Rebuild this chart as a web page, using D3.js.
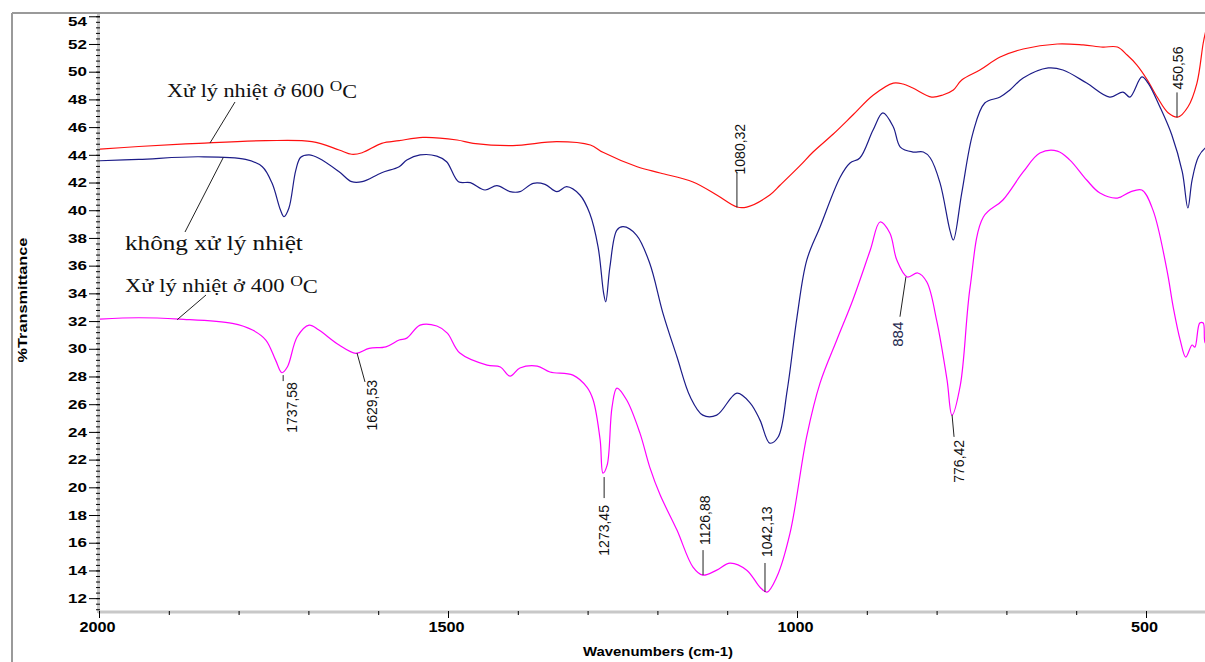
<!DOCTYPE html>
<html>
<head>
<meta charset="utf-8">
<script src="https://cdn.jsdelivr.net/npm/d3@7"></script>
<style>
  body { margin: 0; background: #fff; }
</style>
</head>
<body>
<script>
const width = 1205;
const height = 662;

// FTIR spectra: [wavenumber cm-1, %T]
const untreated = [[2000,43.57],[1943,43.67],[1857,43.86],[1790,43.67],[1766,43.14],[1752,41.94],[1740,40.01],[1735,39.53],[1728,40.14],[1718,42.9],[1711,43.82],[1699,43.99],[1685,43.75],[1656,42.78],[1638,42.06],[1623,42.06],[1595,42.71],[1570,43.14],[1559,43.62],[1540,43.99],[1516,43.91],[1502,43.5],[1485,42.06],[1468,41.99],[1447,41.46],[1430,41.77],[1411,41.34],[1397,41.34],[1378,41.94],[1361,41.87],[1344,41.34],[1330,41.7],[1311,41.1],[1297,39.78],[1285,37.36],[1277,34.0],[1274,33.39],[1268,35.92],[1258,38.57],[1249,38.81],[1230,38.21],[1211,36.17],[1192,32.56],[1172,29.42],[1153,26.53],[1135,25.21],[1115,25.21],[1086,26.8],[1067,26.08],[1053,24.85],[1039,23.19],[1027,23.63],[1014,27.02],[1000,32.29],[986,36.4],[967,38.79],[938,42.4],[924,43.41],[910,43.77],[891,45.79],[877,47.02],[862,46.01],[852,44.56],[834,44.2],[819,44.2],[809,43.77],[795,41.96],[781,38.57],[776,37.85],[764,41.24],[748,45.57],[731,47.74],[709,48.17],[695,48.68],[676,49.54],[640,50.27],[619,50.12],[585,49.18],[552,48.17],[533,48.53],[523,48.17],[506,49.62],[497,49.18],[480,47.45],[463,45.43],[448,42.76],[440,40.16],[434,42.18],[425,43.84],[415,44.49],[410,44.6]];
const heat600 = [[2000,44.4],[1943,44.6],[1857,44.83],[1761,45.02],[1695,44.95],[1656,44.35],[1638,44.04],[1623,44.15],[1595,44.83],[1570,45.02],[1536,45.26],[1487,45.07],[1464,44.83],[1407,44.66],[1344,44.95],[1296,44.71],[1278,44.18],[1229,43.14],[1196,42.69],[1149,42.04],[1115,41.1],[1086,40.23],[1072,40.23],[1039,41.1],[1024,41.82],[996,43.2],[977,44.2],[948,45.5],[920,46.87],[891,48.3],[862,49.18],[848,49.11],[834,48.82],[807,48.17],[791,48.32],[776,48.68],[764,49.4],[738,50.12],[709,51.06],[676,51.64],[627,52.0],[590,51.93],[562,51.78],[541,51.78],[527,51.2],[513,50.48],[498,49.4],[484,48.17],[468,47.02],[454,46.73],[440,47.45],[427,49.18],[418,52.07],[414,53.0]];
const heat400 = [[2000,32.14],[1943,32.24],[1885,32.14],[1809,31.83],[1780,31.35],[1761,30.63],[1747,29.18],[1738,28.27],[1730,28.7],[1716,30.87],[1699,31.71],[1685,31.35],[1656,30.27],[1632,29.67],[1613,30.03],[1589,30.14],[1570,30.63],[1559,30.77],[1540,31.71],[1516,31.64],[1501,31.13],[1483,29.69],[1444,28.82],[1425,28.68],[1411,28.03],[1397,28.61],[1372,28.75],[1354,28.32],[1321,28.1],[1301,27.23],[1292,26.3],[1282,23.41],[1278,21.03],[1272,21.6],[1265,25.79],[1258,27.16],[1244,26.3],[1225,23.91],[1211,21.46],[1196,19.44],[1172,16.91],[1149,14.24],[1135,13.66],[1115,14.02],[1096,14.53],[1072,14.02],[1053,12.79],[1043,12.43],[1029,13.52],[1010,16.69],[986,23.7],[967,27.52],[943,30.63],[920,33.52],[895,37.13],[881,39.15],[867,38.35],[857,36.4],[842,35.18],[827,35.47],[814,34.82],[800,32.07],[785,27.74],[778,25.21],[766,27.38],[752,34.45],[733,39.51],[705,40.74],[676,42.76],[652,44.13],[627,44.27],[609,43.62],[585,42.18],[566,41.24],[541,40.88],[523,41.31],[506,41.46],[490,40.01],[470,35.68],[461,33.01],[451,30.63],[443,29.4],[434,30.27],[430,30.12],[423,31.86],[418,31.86],[415,30.41],[410,30.4]];

const yTicks = d3.range(12, 55, 2);
const xTicks = [2000, 1500, 1000, 500];

// peak labels and the point on the curve each leader touches
const peakText = ["1737,58", "1629,53", "1273,45", "1126,88", "1042,13", "1080,32", "450,56", "884", "776,42"];
const peakWn = [1737.58, 1629.53, 1273.45, 1126.88, 1042.13, 1080.32, 450.56, 884, 776.42];
const peakT = [28.1, 29.7, 21.1, 13.7, 12.3, 40.2, 46.7, 35.2, 25.3];

// curve names and where their leaders touch the curve
const noteText = ["Xử lý nhiệt ở 600 ", "không xử lý nhiệt", "Xử lý nhiệt ở 400 "];
const noteWn = [1841, 1822, 1888];
const noteT = [44.85, 43.8, 32.1];

const svg = d3.select("body").append("svg")
  .attr("width", width)
  .attr("height", height)
  .style("display", "block");

const x = d3.scaleLinear().domain([2000, 400]).range([99, 99 + 1600 * 0.698]);
const y = d3.scaleLinear().domain([11, 54.2]).range([612, 13.5]);

// outer frame
svg.append("line").attr("x1", 12).attr("y1", 13).attr("x2", 12).attr("y2", height)
  .attr("stroke", "#9a9a9a").attr("stroke-width", 2);
svg.append("line").attr("x1", 12).attr("y1", 13).attr("x2", width).attr("y2", 13)
  .attr("stroke", "#9a9a9a").attr("stroke-width", 2);

// gray axis bands
svg.append("line").attr("x1", 98.5).attr("y1", 14).attr("x2", 98.5).attr("y2", 613)
  .attr("stroke", "#c8c8c8").attr("stroke-width", 3);
svg.append("line").attr("x1", 98).attr("y1", 612).attr("x2", width).attr("y2", 612)
  .attr("stroke", "#c8c8c8").attr("stroke-width", 3);

// y axis
const gyMinor = svg.append("g").attr("transform", "translate(100,0)")
  .call(d3.axisLeft(y).tickValues(d3.range(11.2, 54.2, 0.4)).tickSize(4).tickFormat(""));
const gy = svg.append("g").attr("transform", "translate(100,0)")
  .call(d3.axisLeft(y).tickValues(yTicks).tickSize(11));
[gy, gyMinor].forEach(g => {
  g.select(".domain").remove();
  g.selectAll("line").attr("stroke", "#000");
});
const sy = 1.42;
gy.selectAll("text")
  .attr("font-family", "Liberation Sans, Arial, sans-serif")
  .attr("font-size", 12)
  .attr("font-weight", "bold")
  .attr("fill", "#000")
  .attr("x", -13 / sy)
  .attr("dy", d => d === 54 ? "0.75em" : "0.35em")
  .attr("transform", `scale(${sy},1)`);

// x axis
const gxMinor = svg.append("g").attr("transform", "translate(0,611)")
  .call(d3.axisBottom(x).tickValues(d3.range(2000, 399, -100)).tickSize(4).tickFormat(""));
const gx = svg.append("g").attr("transform", "translate(0,611)")
  .call(d3.axisBottom(x).tickValues(xTicks).tickSize(7).tickFormat(d3.format("d")));
[gx, gxMinor].forEach(g => {
  g.select(".domain").remove();
  g.selectAll("line").attr("stroke", "#000");
});
const sx = 1.16;
gx.selectAll("text")
  .attr("font-family", "Liberation Sans, Arial, sans-serif")
  .attr("font-size", 14)
  .attr("font-weight", "bold")
  .attr("fill", "#000")
  .attr("y", 11)
  .attr("x", -2 / sx)
  .attr("transform", `scale(${sx},1)`);

// axis titles
const yt = svg.append("g");
const ytText = yt.append("text")
  .attr("text-anchor", "middle")
  .attr("font-family", "Liberation Sans, Arial, sans-serif")
  .attr("font-size", 12)
  .attr("font-weight", "bold")
  .text("%Transmittance");
yt.attr("transform", `translate(27,300) rotate(-90) scale(${125 / ytText.node().getComputedTextLength()},1)`);

const xt = svg.append("g");
const xtText = xt.append("text")
  .attr("text-anchor", "middle")
  .attr("font-family", "Liberation Sans, Arial, sans-serif")
  .attr("font-size", 12)
  .attr("font-weight", "bold")
  .text("Wavenumbers (cm-1)");
xt.attr("transform", `translate(658,656) scale(${150 / xtText.node().getComputedTextLength()},1)`);

// spectra
svg.append("clipPath").attr("id", "plot")
  .append("rect").attr("x", 100).attr("y", 14).attr("width", width - 100).attr("height", 597);

const line = d3.line()
  .x(d => x(d[0]))
  .y(d => y(d[1]))
  .curve(d3.curveCatmullRom.alpha(0.5));

const series = [
  { data: heat600, color: "#ff1010" },
  { data: untreated, color: "#1c1c88" },
  { data: heat400, color: "#ff00ff" }
];
svg.append("g").attr("clip-path", "url(#plot)")
  .selectAll("path")
  .data(series)
  .join("path")
  .attr("d", d => line(d.data))
  .attr("fill", "none")
  .attr("stroke", d => d.color)
  .attr("stroke-width", 1.2);

// peak annotations: leader [x1,y1,x2,y2], text offset [tx,ty], anchor
const peakLayout = [
  [1, 0, 1, 6, 10, 7, "end"],
  [-0.6, 0, 7.4, 29, 14.4, 27, "end"],
  [-2, 5, -2, 26, -2, 33, "end"],
  [-5.4, -24.5, -5.4, 0.5, -3.4, -29.5, "start"],
  [-2.6, -31, -2.6, -2, -0.6, -37, "start"],
  [-4, -35, -4, 0, -1, -33, "start"],
  [-3.5, -25, -3.5, 0, -3, -28, "start"],
  [28, 0, 22, 40, 20, 45, "end"],
  [-1, 1, 1, 23, 6, 26, "end"]
];
const peaks = svg.append("g");
peakText.forEach((t, i) => {
  const ax = x(peakWn[i]), ay = y(peakT[i]);
  const L = peakLayout[i];
  peaks.append("line")
    .attr("x1", ax + L[0]).attr("y1", ay + L[1])
    .attr("x2", ax + L[2]).attr("y2", ay + L[3])
    .attr("stroke", "#222").attr("stroke-width", 1);
  peaks.append("text")
    .attr("transform", `translate(${ax + L[4]},${ay + L[5]}) rotate(-90)`)
    .attr("text-anchor", L[6])
    .attr("dy", "0.36em")
    .attr("font-family", "Liberation Sans, Arial, sans-serif")
    .attr("font-size", t === "884" ? 15 : 14)
    .attr("fill", t === "884" ? "#1f2a4f" : "#111")
    .text(t);
});

// curve notes: text x, baseline y, width, font size, leader start
const noteLayout = [
  [167, 97, 190, 18, 235, 102],
  [125, 250, 178, 22, 185, 232],
  [125, 292, 193, 18, 206, 295]
];
noteText.forEach((t, i) => {
  const L = noteLayout[i];
  svg.append("line")
    .attr("x1", L[4]).attr("y1", L[5])
    .attr("x2", x(noteWn[i])).attr("y2", y(noteT[i]))
    .attr("stroke", "#222").attr("stroke-width", 1);
  const g = svg.append("g");
  const txt = g.append("text")
    .attr("font-family", "Liberation Serif, Times New Roman, serif")
    .attr("font-size", L[3])
    .attr("fill", "#111");
  txt.append("tspan").text(t);
  if (i !== 1) {
    txt.append("tspan").attr("font-size", 14).attr("dy", -6).text("O");
    txt.append("tspan").attr("dy", 7).text("C");
  }
  const w0 = txt.node().getBBox().width;
  g.attr("transform", `translate(${L[0]},${L[1]}) scale(${L[2] / w0},1)`);
});
</script>
</body>
</html>
